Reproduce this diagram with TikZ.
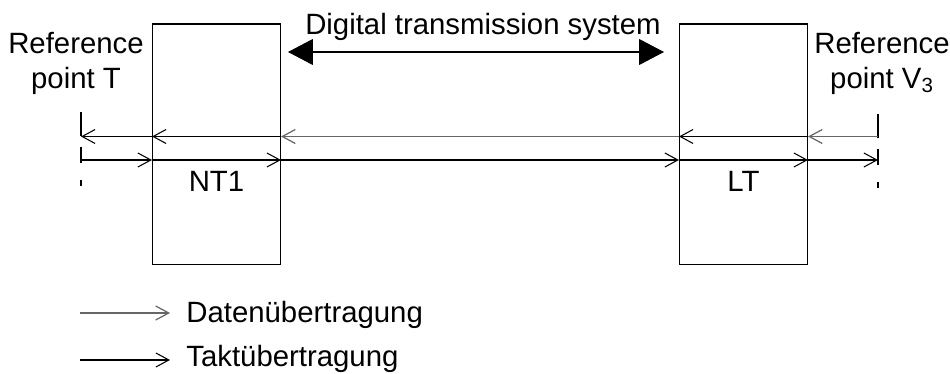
\documentclass[tikz,border=0pt]{standalone}
\usepackage{fontspec}
\setmainfont{Liberation Sans}
\usetikzlibrary{arrows.meta}

\tikzset{
    unit/.style={draw, line width=0.6pt, minimum width=2.56cm, minimum height=4.82cm, inner sep=0pt},
    txt/.style={inner sep=0pt, font=\fontsize{16.7}{19.9}\selectfont},
    refline/.style={line width=0.6pt, dash pattern=on 4.8mm off 2.2mm on 3.2mm off 3.4mm},
    data/.style={line width=0.7pt, black!60, -{Straight Barb[length=2.6mm,width=2.8mm]}},
    clk/.style={line width=0.6pt, black, -{Straight Barb[length=2.6mm,width=2.8mm]}},
    span/.style={line width=0.6pt, {Triangle[length=5mm,width=5.2mm]}-{Triangle[length=5mm,width=5.2mm]}}
}

\begin{document}
\begin{tikzpicture}[x=0.02cm, y=-0.02cm]
        \useasboundingbox (0, 0) rectangle (950, 374);

        % The two units
        \node[unit] (nt1) at (216.5, 144.5) {};
        \node[unit] (lt) at (743.5, 144.5) {};
        \node[txt, anchor=base] (nt1lab) at (216.5, 192) {NT1};
        \node[txt, anchor=base] (ltlab) at (743.5, 192) {LT};

        % The reference points
        \node[txt, align=center] (refT) at (76, 63) {Reference\\point T};
        \node[txt, align=center] (refV) at (882, 63) {Reference\\point V\textsubscript{3}};
        \coordinate (Tup) at (81, 136.5);
        \coordinate (Tdn) at (81, 160);
        \coordinate (Vup) at (878, 136.5);
        \coordinate (Vdn) at (878, 160);
        \draw[refline] (81, 112) -- (81, 186);
        \draw[refline] (878, 114) -- (878, 188);

        % The transmission system
        \node[txt, anchor=base] (dts) at (483, 35) {Digital transmission system};
        \coordinate (spanL) at (288, 52);
        \coordinate (spanR) at (664, 52);
        \draw[span] (spanL) -- (spanR);

        % Upper row, towards T
        \draw[clk] (nt1.west |- Tup) -- (Tup);
        \draw[clk] (nt1.east |- Tup) -- (nt1.west |- Tup);
        \draw[data] (lt.west |- Tup) -- (nt1.east |- Tup);
        \draw[clk] (lt.east |- Tup) -- (lt.west |- Tup);
        \draw[data] (Vup) -- (lt.east |- Tup);

        % Lower row, towards V3
        \draw[clk] (Tdn) -- (nt1.west |- Tdn);
        \draw[clk] (nt1.west |- Tdn) -- (nt1.east |- Tdn);
        \draw[clk] (nt1.east |- Tdn) -- (lt.west |- Tdn);
        \draw[clk] (lt.west |- Tdn) -- (lt.east |- Tdn);
        \draw[clk] (lt.east |- Tdn) -- (Vdn);

        % The legend
        \coordinate (leg1) at (80, 313);
        \coordinate (leg2) at (80, 360);
        \node[txt, anchor=base west] (datalab) at (186, 323) {Datenübertragung};
        \node[txt, anchor=base west] (clklab) at (186, 367) {Taktübertragung};
        \draw[data] (leg1) -- (leg1 -| 170, 0);
        \draw[clk] (leg2) -- (leg2 -| 170, 0);
    \end{tikzpicture}
\end{document}
